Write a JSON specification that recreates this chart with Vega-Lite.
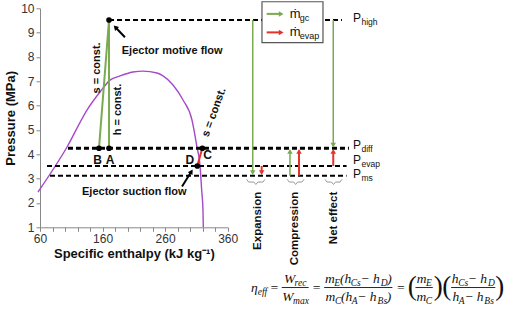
{
  "$schema": "https://vega.github.io/schema/vega-lite/v6.json",
  "width": 187.7,
  "height": 219,
  "autosize": {"type": "none"},
  "padding": {"left": 40, "top": 8.3, "right": 278.3, "bottom": 85.7},
  "background": "white",
  "resolve": {"axis": {"x": "independent", "y": "independent"}},
  "config": {
    "view": {"stroke": null},
    "font": "Liberation Sans",
    "text": {"font": "Liberation Sans"},
    "axis": {
      "grid": false, "tickSize": 4, "tickColor": "#888", "domainColor": "#888",
      "labelFontSize": 12, "labelColor": "#333", "labelPadding": 2,
      "titleFontSize": 13, "titleFontWeight": "bold", "titleColor": "#111", "titlePadding": 3
    }
  },
  "datasets": {
    "dome": [
      {"i": 0, "h": 56.8, "P": 2.45}, {"i": 1, "h": 103.2, "P": 4.3}, {"i": 2, "h": 135.1, "P": 5.82},
      {"i": 3, "h": 155.9, "P": 6.56}, {"i": 4, "h": 171.9, "P": 7.05}, {"i": 5, "h": 187.9, "P": 7.22},
      {"i": 6, "h": 208.6, "P": 7.38}, {"i": 7, "h": 224.6, "P": 7.42}, {"i": 8, "h": 247.0, "P": 7.34},
      {"i": 9, "h": 256.6, "P": 7.22}, {"i": 10, "h": 272.6, "P": 6.85}, {"i": 11, "h": 288.6, "P": 6.23},
      {"i": 12, "h": 302.9, "P": 5.41}, {"i": 13, "h": 310.9, "P": 4.3}, {"i": 14, "h": 315.7, "P": 3.56},
      {"i": 15, "h": 318.4, "P": 2.53}, {"i": 16, "h": 320.5, "P": 1.71}, {"i": 17, "h": 321.0, "P": 1.0}
    ],
    "levels": [
      {"name": "high", "h1": 170.3, "h2": 542.6, "P": 9.52},
      {"name": "diff", "h1": 104.7, "h2": 553.8, "P": 4.25},
      {"name": "evap", "h1": 71.2, "h2": 550, "P": 3.52},
      {"name": "ms", "h1": 76, "h2": 550, "P": 3.12}
    ],
    "segs": [
      {"flow": "gc", "h1": 170.3, "P1": 9.52, "h2": 154.3, "P2": 4.25},
      {"flow": "gc", "h1": 170.3, "P1": 9.52, "h2": 170.3, "P2": 4.25},
      {"flow": "evap", "h1": 311.4, "P1": 3.52, "h2": 319.4, "P2": 4.25}
    ],
    "arrows": [
      {"flow": "gc", "h": 400.0, "P1": 9.52, "Ph": 3.25, "dir": "down"},
      {"flow": "evap", "h": 414.3, "P1": 3.52, "Ph": 3.25, "dir": "down"},
      {"flow": "gc", "h": 459.5, "P1": 3.12, "Ph": 4.12, "dir": "up"},
      {"flow": "evap", "h": 474.0, "P1": 3.12, "Ph": 4.12, "dir": "up"},
      {"flow": "gc", "h": 528.7, "P1": 9.52, "Ph": 4.38, "dir": "down"},
      {"flow": "evap", "h": 528.7, "P1": 3.52, "Ph": 4.12, "dir": "up"}
    ],
    "legendBox": [{"h1": 414.8, "h2": 512.3, "P1": 10.27, "P2": 8.59}],
    "legendArrows": [
      {"flow": "gc", "h1": 422.3, "hh": 445.5, "P": 9.77, "t": "ṁ", "sub": "gc"},
      {"flow": "evap", "h1": 422.3, "hh": 445.5, "P": 9.01, "t": "ṁ", "sub": "evap"}
    ],
    "pointers": [
      {"name": "motive", "h1": 195.8, "P1": 8.81, "h2": 180.5, "P2": 9.22},
      {"name": "suction", "h1": 287.0, "P1": 2.68, "h2": 302.0, "P2": 3.29}
    ],
    "states": [
      {"n": "top", "h": 170.3, "P": 9.52}, {"n": "A", "h": 170.3, "P": 4.25}, {"n": "B", "h": 154.3, "P": 4.25},
      {"n": "C", "h": 319.4, "P": 4.25}, {"n": "D", "h": 311.4, "P": 3.52}
    ],
    "notes": [
      {"t": "Ejector motive flow", "h": 271.3, "P": 8.26},
      {"t": "Ejector suction flow", "h": 210.7, "P": 2.44}
    ],
    "letters": [
      {"t": "B", "h": 152.2, "P": 3.77}, {"t": "A", "h": 171.9, "P": 3.77},
      {"t": "D", "h": 299.5, "P": 3.77}, {"t": "C", "h": 328.0, "P": 3.97}
    ],
    "vconst": [
      {"t": "s = const.", "h": 150.6, "P": 7.55},
      {"t": "h = const.", "h": 185.1, "P": 5.84}
    ],
    "tconst": [{"t": "s = const.", "h": 338.4, "P": 5.72}],
    "process": [
      {"t": "Expansion", "h": 408.9, "P": 2.46},
      {"t": "Compression", "h": 467.5, "P": 2.46},
      {"t": "Net effect", "h": 529.9, "P": 2.46}
    ],
    "plabels": [
      {"sub": "high", "h": 560.2, "P": 9.59}, {"sub": "diff", "h": 560.2, "P": 4.4},
      {"sub": "evap", "h": 560.2, "P": 3.76}, {"sub": "ms", "h": 560.2, "P": 3.2}
    ],
    "braces": [
      {"g": "E", "i": 0, "h": 390.3, "P": 2.97}, {"g": "E", "i": 1, "h": 393.5, "P": 2.86}, {"g": "E", "i": 2, "h": 401.8, "P": 2.86},
      {"g": "E", "i": 3, "h": 405.0, "P": 2.76}, {"g": "E", "i": 4, "h": 408.2, "P": 2.86}, {"g": "E", "i": 5, "h": 416.4, "P": 2.86},
      {"g": "E", "i": 6, "h": 419.6, "P": 2.97},
      {"g": "C", "i": 0, "h": 455.2, "P": 2.97}, {"g": "C", "i": 1, "h": 458.4, "P": 2.86}, {"g": "C", "i": 2, "h": 465.4, "P": 2.86},
      {"g": "C", "i": 3, "h": 468.6, "P": 2.76}, {"g": "C", "i": 4, "h": 471.8, "P": 2.86}, {"g": "C", "i": 5, "h": 478.7, "P": 2.86},
      {"g": "C", "i": 6, "h": 481.9, "P": 2.97},
      {"g": "N", "i": 0, "h": 515.5, "P": 2.97}, {"g": "N", "i": 1, "h": 518.7, "P": 2.86}, {"g": "N", "i": 2, "h": 525.9, "P": 2.86},
      {"g": "N", "i": 3, "h": 529.1, "P": 2.76}, {"g": "N", "i": 4, "h": 532.3, "P": 2.86}, {"g": "N", "i": 5, "h": 539.5, "P": 2.86},
      {"g": "N", "i": 6, "h": 542.7, "P": 2.97}
    ],
    "eqMain": [
      {"t": "η", "h": 397.2, "P": -1.66},
      {"t": "=", "h": 427.3, "P": -1.66},
      {"t": "W", "h": 450.0, "P": -1.291},
      {"t": "W", "h": 447.2, "P": -2.03},
      {"t": "=", "h": 494.9, "P": -1.66},
      {"t": "m", "h": 515.5, "P": -1.291},
      {"t": "(h", "h": 539.3, "P": -1.291},
      {"t": " − h", "h": 572.1, "P": -1.291},
      {"t": ")", "h": 615.1, "P": -1.291},
      {"t": "m", "h": 516.3, "P": -2.03},
      {"t": "(h", "h": 541.1, "P": -2.03},
      {"t": " − h", "h": 567.1, "P": -2.03},
      {"t": ")", "h": 614.1, "P": -2.03},
      {"t": "=", "h": 629.4, "P": -1.66},
      {"t": "m", "h": 662.0, "P": -1.291},
      {"t": "m", "h": 661.7, "P": -2.03},
      {"t": "h", "h": 718.0, "P": -1.291},
      {"t": " − h", "h": 743.7, "P": -1.291},
      {"t": "h", "h": 719.1, "P": -2.03},
      {"t": " − h", "h": 738.3, "P": -2.03}
    ],
    "eqSub": [
      {"t": "eff", "h": 407.9, "P": -1.784},
      {"t": "rec", "h": 466.9, "P": -1.414},
      {"t": "max", "h": 464.5, "P": -2.153},
      {"t": "E", "h": 530.3, "P": -1.414},
      {"t": "Cs", "h": 556.7, "P": -1.414},
      {"t": "D", "h": 604.5, "P": -1.414},
      {"t": "C", "h": 531.3, "P": -2.153},
      {"t": "A", "h": 558.3, "P": -2.153},
      {"t": "Bs", "h": 599.6, "P": -2.153},
      {"t": "E", "h": 677.1, "P": -1.414},
      {"t": "C", "h": 676.7, "P": -2.153},
      {"t": "Cs", "h": 728.4, "P": -1.414},
      {"t": "D", "h": 776.2, "P": -1.414},
      {"t": "A", "h": 729.3, "P": -2.153},
      {"t": "Bs", "h": 770.2, "P": -2.153}
    ],
    "eqParen": [
      {"t": "(", "h": 647.8, "P": -1.454},
      {"t": ")", "h": 689.4, "P": -1.454},
      {"t": "(", "h": 703.1, "P": -1.454},
      {"t": ")", "h": 787.7, "P": -1.454}
    ],
    "eqBars": [
      {"h1": 446.4, "h2": 489.4, "P": -1.475},
      {"h1": 514.1, "h2": 623.2, "P": -1.475},
      {"h1": 660.1, "h2": 687.8, "P": -1.475},
      {"h1": 717.0, "h2": 787.7, "P": -1.475}
    ]
  },
  "layer": [
    {
      "data": {"name": "dome"},
      "mark": {"type": "line", "color": "#a64ac9", "strokeWidth": 1.4, "interpolate": "monotone"},
      "encoding": {
        "x": {
          "field": "h", "type": "quantitative",
          "scale": {"domain": [60, 360], "nice": false, "zero": false},
          "axis": {
            "values": [60, 80, 100, 120, 140, 160, 180, 200, 220, 240, 260, 280, 300, 320, 340, 360],
            "labelExpr": "(datum.value - 60) % 100 == 0 ? datum.value : ''",
            "labelOverlap": false,
            "labelFlush": false,
            "labelBound": false,
            "title": "Specific enthalpy (kJ kg⁻¹)"
          }
        },
        "y": {
          "field": "P", "type": "quantitative",
          "scale": {"domain": [1, 10], "nice": false, "zero": false},
          "axis": {
            "values": [1, 2, 3, 4, 5, 6, 7, 8, 9, 10],
            "labelOverlap": false,
            "labelFlush": false,
            "labelBound": false,
            "title": "Pressure (MPa)"
          }
        },
        "order": {"field": "i", "type": "quantitative"}
      }
    },
    {
      "data": {"name": "levels"},
      "mark": {"type": "rule", "color": "black", "strokeDash": [5, 3]},
      "encoding": {
        "x": {"field": "h1", "type": "quantitative", "axis": null},
        "x2": {"field": "h2"},
        "y": {"field": "P", "type": "quantitative", "axis": null},
        "strokeWidth": {"condition": {"test": "datum.name === 'diff'", "value": 3}, "value": 2}
      }
    },
    {
      "data": {"name": "segs"},
      "mark": {"type": "rule", "strokeWidth": 2},
      "encoding": {
        "x": {"field": "h1", "type": "quantitative", "axis": null},
        "y": {"field": "P1", "type": "quantitative", "axis": null},
        "x2": {"field": "h2"},
        "y2": {"field": "P2"},
        "color": {"field": "flow", "type": "nominal", "scale": {"domain": ["gc", "evap"], "range": ["#79ab50", "#e2342b"]}, "legend": null}
      }
    },
    {
      "data": {"name": "arrows"},
      "mark": {"type": "rule"},
      "encoding": {
        "x": {"field": "h", "type": "quantitative", "axis": null},
        "y": {"field": "P1", "type": "quantitative", "axis": null},
        "y2": {"field": "Ph"},
        "color": {"field": "flow", "type": "nominal", "legend": null},
        "strokeWidth": {"condition": {"test": "datum.flow === 'evap'", "value": 2}, "value": 1.5}
      }
    },
    {
      "data": {"name": "arrows"},
      "mark": {"type": "point", "filled": true, "opacity": 1, "size": 30},
      "encoding": {
        "x": {"field": "h", "type": "quantitative", "axis": null},
        "y": {"field": "Ph", "type": "quantitative", "axis": null},
        "color": {"field": "flow", "type": "nominal", "legend": null},
        "shape": {"field": "dir", "type": "nominal", "scale": {"domain": ["down", "up"], "range": ["triangle-down", "triangle-up"]}, "legend": null}
      }
    },
    {
      "data": {"name": "legendBox"},
      "mark": {"type": "rect", "fill": "white", "stroke": "#555", "strokeWidth": 1.2},
      "encoding": {
        "x": {"field": "h1", "type": "quantitative", "axis": null},
        "x2": {"field": "h2"},
        "y": {"field": "P1", "type": "quantitative", "axis": null},
        "y2": {"field": "P2"}
      }
    },
    {
      "data": {"name": "legendArrows"},
      "mark": {"type": "rule", "strokeWidth": 2},
      "encoding": {
        "x": {"field": "h1", "type": "quantitative", "axis": null},
        "x2": {"field": "hh"},
        "y": {"field": "P", "type": "quantitative", "axis": null},
        "color": {"field": "flow", "type": "nominal", "legend": null}
      }
    },
    {
      "data": {"name": "legendArrows"},
      "mark": {"type": "point", "shape": "triangle-right", "filled": true, "opacity": 1, "size": 30},
      "encoding": {
        "x": {"field": "hh", "type": "quantitative", "axis": null},
        "y": {"field": "P", "type": "quantitative", "axis": null},
        "color": {"field": "flow", "type": "nominal", "legend": null}
      }
    },
    {
      "data": {"name": "legendArrows"},
      "mark": {"type": "text", "align": "left", "baseline": "middle", "fontSize": 13, "color": "#111", "dx": 23},
      "encoding": {
        "x": {"field": "h1", "type": "quantitative", "axis": null},
        "y": {"field": "P", "type": "quantitative", "axis": null},
        "text": {"field": "t"}
      }
    },
    {
      "data": {"name": "legendArrows"},
      "mark": {"type": "text", "align": "left", "baseline": "middle", "fontSize": 9, "color": "#111", "dx": 33, "dy": 4},
      "encoding": {
        "x": {"field": "h1", "type": "quantitative", "axis": null},
        "y": {"field": "P", "type": "quantitative", "axis": null},
        "text": {"field": "sub"}
      }
    },
    {
      "data": {"name": "pointers"},
      "mark": {"type": "rule", "color": "black", "strokeWidth": 2},
      "encoding": {
        "x": {"field": "h1", "type": "quantitative", "axis": null},
        "y": {"field": "P1", "type": "quantitative", "axis": null},
        "x2": {"field": "h2"},
        "y2": {"field": "P2"}
      }
    },
    {
      "data": {"name": "pointers"},
      "transform": [{"filter": "datum.name === 'motive'"}],
      "mark": {"type": "point", "shape": "triangle-up", "angle": 316, "filled": true, "opacity": 1, "size": 30, "color": "black"},
      "encoding": {
        "x": {"field": "h2", "type": "quantitative", "axis": null},
        "y": {"field": "P2", "type": "quantitative", "axis": null}
      }
    },
    {
      "data": {"name": "pointers"},
      "transform": [{"filter": "datum.name === 'suction'"}],
      "mark": {"type": "point", "shape": "triangle-up", "angle": 32, "filled": true, "opacity": 1, "size": 30, "color": "black"},
      "encoding": {
        "x": {"field": "h2", "type": "quantitative", "axis": null},
        "y": {"field": "P2", "type": "quantitative", "axis": null}
      }
    },
    {
      "data": {"name": "states"},
      "mark": {"type": "point", "filled": true, "opacity": 1, "size": 32, "color": "black"},
      "encoding": {
        "x": {"field": "h", "type": "quantitative", "axis": null},
        "y": {"field": "P", "type": "quantitative", "axis": null}
      }
    },
    {
      "data": {"name": "notes"},
      "mark": {"type": "text", "align": "center", "baseline": "middle", "fontSize": 11, "fontWeight": "bold", "color": "#111"},
      "encoding": {
        "x": {"field": "h", "type": "quantitative", "axis": null},
        "y": {"field": "P", "type": "quantitative", "axis": null},
        "text": {"field": "t"}
      }
    },
    {
      "data": {"name": "letters"},
      "mark": {"type": "text", "align": "center", "baseline": "middle", "fontSize": 12, "fontWeight": "bold", "color": "#111"},
      "encoding": {
        "x": {"field": "h", "type": "quantitative", "axis": null},
        "y": {"field": "P", "type": "quantitative", "axis": null},
        "text": {"field": "t"}
      }
    },
    {
      "data": {"name": "vconst"},
      "mark": {"type": "text", "align": "center", "baseline": "middle", "angle": 270, "fontSize": 11, "fontWeight": "bold", "color": "#111"},
      "encoding": {
        "x": {"field": "h", "type": "quantitative", "axis": null},
        "y": {"field": "P", "type": "quantitative", "axis": null},
        "text": {"field": "t"}
      }
    },
    {
      "data": {"name": "tconst"},
      "mark": {"type": "text", "align": "center", "baseline": "middle", "angle": 290, "fontSize": 11, "fontWeight": "bold", "color": "#111"},
      "encoding": {
        "x": {"field": "h", "type": "quantitative", "axis": null},
        "y": {"field": "P", "type": "quantitative", "axis": null},
        "text": {"field": "t"}
      }
    },
    {
      "data": {"name": "process"},
      "mark": {"type": "text", "align": "right", "baseline": "middle", "angle": 270, "fontSize": 11.5, "fontWeight": "bold", "color": "#111"},
      "encoding": {
        "x": {"field": "h", "type": "quantitative", "axis": null},
        "y": {"field": "P", "type": "quantitative", "axis": null},
        "text": {"field": "t"}
      }
    },
    {
      "data": {"name": "plabels"},
      "mark": {"type": "text", "text": "P", "align": "left", "baseline": "middle", "fontSize": 12, "color": "#111"},
      "encoding": {
        "x": {"field": "h", "type": "quantitative", "axis": null},
        "y": {"field": "P", "type": "quantitative", "axis": null}
      }
    },
    {
      "data": {"name": "plabels"},
      "mark": {"type": "text", "align": "left", "baseline": "middle", "fontSize": 8.5, "color": "#111", "dx": 8.5, "dy": 4},
      "encoding": {
        "x": {"field": "h", "type": "quantitative", "axis": null},
        "y": {"field": "P", "type": "quantitative", "axis": null},
        "text": {"field": "sub"}
      }
    },
    {
      "data": {"name": "braces"},
      "mark": {"type": "line", "color": "#999", "strokeWidth": 1},
      "encoding": {
        "x": {"field": "h", "type": "quantitative", "axis": null},
        "y": {"field": "P", "type": "quantitative", "axis": null},
        "detail": {"field": "g"},
        "order": {"field": "i", "type": "quantitative"}
      }
    },
    {
      "data": {"name": "eqMain"},
      "mark": {"type": "text", "align": "left", "baseline": "alphabetic", "font": "Liberation Serif", "fontStyle": "italic", "fontSize": 13.5, "color": "#111"},
      "encoding": {
        "x": {"field": "h", "type": "quantitative", "axis": null},
        "y": {"field": "P", "type": "quantitative", "axis": null},
        "text": {"field": "t"}
      }
    },
    {
      "data": {"name": "eqSub"},
      "mark": {"type": "text", "align": "left", "baseline": "alphabetic", "font": "Liberation Serif", "fontStyle": "italic", "fontSize": 9.5, "color": "#111"},
      "encoding": {
        "x": {"field": "h", "type": "quantitative", "axis": null},
        "y": {"field": "P", "type": "quantitative", "axis": null},
        "text": {"field": "t"}
      }
    },
    {
      "data": {"name": "eqParen"},
      "mark": {"type": "text", "align": "left", "baseline": "middle", "font": "Liberation Serif", "fontSize": 27, "color": "#111"},
      "encoding": {
        "x": {"field": "h", "type": "quantitative", "axis": null},
        "y": {"field": "P", "type": "quantitative", "axis": null},
        "text": {"field": "t"}
      }
    },
    {
      "data": {"name": "eqBars"},
      "mark": {"type": "rule", "color": "#111", "strokeWidth": 0.9},
      "encoding": {
        "x": {"field": "h1", "type": "quantitative", "axis": null},
        "x2": {"field": "h2"},
        "y": {"field": "P", "type": "quantitative", "axis": null}
      }
    }
  ]
}
